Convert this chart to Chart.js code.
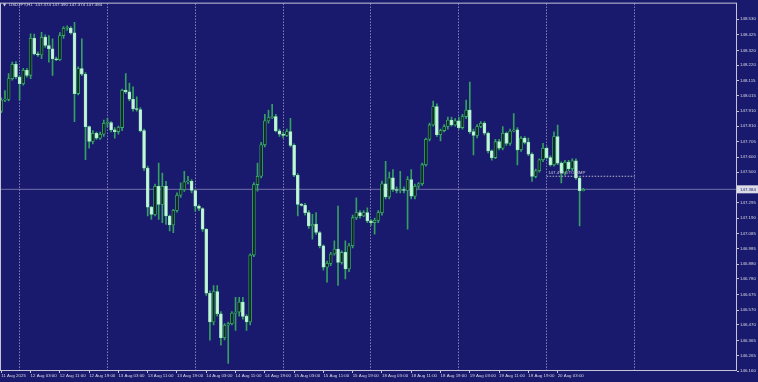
<!DOCTYPE html>
<html>
<head>
<meta charset="utf-8">
<script src="https://cdn.jsdelivr.net/npm/chart.js@4"></script>
<style>
html, body { margin: 0; padding: 0; background: #19196d; }
canvas { display: block; }
</style>
</head>
<body>
<canvas id="myChart" width="758" height="382"></canvas>
<script>
// USDJPY H1, 11 Aug 2025 19:00 .. 20 Aug 2025 10:00
const opens = [147.910,147.985,147.990,148.130,148.226,148.141,148.096,148.186,148.152,148.402,
  148.297,148.290,148.409,148.353,148.331,148.264,148.257,148.420,148.469,148.471,
  148.438,148.029,148.197,148.159,147.806,147.706,147.762,147.728,147.755,147.829,
  147.833,147.784,147.773,147.800,148.052,148.041,147.991,147.925,147.922,147.780,
  147.527,147.264,147.215,147.405,147.282,147.405,147.204,147.144,147.242,147.344,
  147.382,147.434,147.438,147.376,147.271,147.255,147.115,146.684,146.490,146.695,
  146.546,146.385,146.468,146.479,146.550,146.557,146.624,146.528,146.490,146.941,
  147.416,147.472,147.684,147.845,147.867,147.874,147.778,147.755,147.747,147.773,
  147.680,147.479,147.282,147.276,147.227,147.137,147.149,147.093,147.004,146.859,
  146.885,146.948,146.981,146.892,146.959,146.847,147.004,147.193,147.227,147.204,
  147.227,147.171,147.160,147.175,147.227,147.421,147.332,147.461,147.383,147.376,
  147.383,147.376,147.450,147.338,147.405,147.421,147.550,147.722,147.818,147.941,
  147.752,147.780,147.807,147.851,147.818,147.845,147.800,147.874,147.918,147.773,
  147.747,147.807,147.829,147.762,147.643,147.598,147.705,147.661,147.761,147.694,
  147.777,147.785,147.650,147.728,147.700,147.621,147.471,147.509,147.583,147.661,
  147.598,147.549,147.739,147.560,147.494,147.567,147.523,147.576,147.460,147.374];
const highs = [148.000,148.050,148.163,148.241,148.245,148.150,148.200,148.200,148.431,148.430,
  148.310,148.442,148.425,148.420,148.398,148.275,148.440,148.480,148.485,148.480,
  148.509,148.210,148.398,148.170,147.810,147.780,147.770,147.770,147.850,147.862,
  147.840,147.800,147.810,148.060,148.163,148.100,148.075,148.007,147.935,147.790,
  147.540,147.270,147.420,147.561,147.494,147.438,147.210,147.250,147.360,147.427,
  147.505,147.472,147.450,147.380,147.280,147.260,147.120,146.700,146.735,146.735,
  146.560,146.480,146.490,146.560,146.657,146.657,146.657,146.540,146.950,147.430,
  147.561,147.700,147.889,147.918,147.956,147.890,147.790,147.770,147.790,147.863,
  147.690,147.490,147.290,147.290,147.240,147.216,147.227,147.100,147.010,146.900,
  146.960,147.037,147.271,146.970,147.037,147.020,147.210,147.327,147.240,147.240,
  147.260,147.180,147.190,147.240,147.440,147.572,147.500,147.517,147.400,147.506,
  147.400,147.470,147.517,147.420,147.430,147.560,147.730,147.830,147.979,147.960,
  147.790,147.820,147.870,147.870,147.860,147.870,147.890,147.985,148.107,147.790,
  147.820,147.840,147.840,147.770,147.650,147.720,147.720,147.806,147.770,147.790,
  147.895,147.800,147.740,147.740,147.730,147.630,147.520,147.590,147.694,147.670,
  147.610,147.772,147.817,147.570,147.580,147.580,147.590,147.590,147.470,147.390];
const lows = [147.900,147.974,147.980,148.120,148.130,147.985,148.085,148.140,148.130,148.290,
  148.280,148.264,148.340,148.241,148.152,148.250,148.250,148.400,148.455,148.430,
  147.840,148.020,148.150,147.583,147.661,147.690,147.720,147.720,147.740,147.806,
  147.770,147.728,147.755,147.780,148.030,147.980,147.910,147.910,147.770,147.510,
  147.204,147.182,147.204,147.182,147.159,147.148,147.103,147.092,147.230,147.330,
  147.370,147.420,147.360,147.237,147.240,147.100,146.670,146.367,146.470,146.530,
  146.334,146.370,146.211,146.470,146.434,146.530,146.510,146.434,146.470,146.930,
  147.372,147.460,147.670,147.830,147.860,147.770,147.740,147.730,147.740,147.670,
  147.470,147.204,147.270,147.210,147.120,147.048,147.080,146.990,146.840,146.758,
  146.870,146.940,146.736,146.880,146.780,146.830,146.990,147.180,147.190,147.200,
  147.160,147.140,147.082,147.160,147.210,147.320,147.320,147.370,147.360,147.360,
  147.360,147.115,147.320,147.320,147.390,147.410,147.540,147.710,147.810,147.740,
  147.710,147.770,147.790,147.810,147.810,147.790,147.790,147.860,147.760,147.616,
  147.730,147.800,147.750,147.630,147.580,147.590,147.650,147.650,147.680,147.680,
  147.770,147.549,147.640,147.690,147.610,147.438,147.460,147.500,147.570,147.590,
  147.540,147.540,147.550,147.427,147.480,147.510,147.510,147.450,147.137,147.374];
const closes = [147.985,147.990,148.130,148.226,148.141,148.096,148.186,148.152,148.402,148.297,
  148.290,148.409,148.353,148.331,148.264,148.257,148.420,148.469,148.471,148.438,
  148.029,148.197,148.159,147.806,147.706,147.762,147.728,147.755,147.829,147.833,
  147.784,147.773,147.800,148.052,148.041,147.991,147.925,147.922,147.780,147.527,
  147.264,147.215,147.405,147.282,147.405,147.204,147.144,147.242,147.344,147.382,
  147.434,147.438,147.376,147.271,147.255,147.115,146.684,146.490,146.695,146.546,
  146.385,146.468,146.479,146.550,146.557,146.624,146.528,146.490,146.941,147.416,
  147.472,147.684,147.845,147.867,147.874,147.778,147.755,147.747,147.773,147.680,
  147.479,147.282,147.276,147.227,147.137,147.149,147.093,147.004,146.859,146.885,
  146.948,146.981,146.892,146.959,146.847,147.004,147.193,147.227,147.204,147.227,
  147.171,147.160,147.175,147.227,147.421,147.332,147.461,147.383,147.376,147.383,
  147.376,147.450,147.338,147.405,147.421,147.550,147.722,147.818,147.941,147.752,
  147.780,147.807,147.851,147.818,147.845,147.800,147.874,147.918,147.773,147.747,
  147.807,147.829,147.762,147.643,147.598,147.705,147.661,147.761,147.694,147.777,
  147.785,147.650,147.728,147.700,147.621,147.471,147.509,147.583,147.661,147.598,
  147.549,147.739,147.560,147.494,147.567,147.523,147.576,147.460,147.375,147.384];

// bar index -> time label on the bottom axis
const timeTickBars = [0, 8, 16, 24, 32, 40, 48, 56, 64, 72, 80, 88, 96, 104, 112, 120, 128, 136, 144, 152];
const timeTickLabels = ['11 Aug 2025', '12 Aug 03:00', '12 Aug 11:00', '12 Aug 19:00', '13 Aug 03:00',
  '13 Aug 11:00', '13 Aug 19:00', '14 Aug 03:00', '14 Aug 11:00', '14 Aug 19:00', '15 Aug 03:00',
  '15 Aug 11:00', '15 Aug 19:00', '18 Aug 03:00', '18 Aug 11:00', '18 Aug 19:00', '19 Aug 03:00',
  '19 Aug 11:00', '19 Aug 19:00', '20 Aug 03:00'];
// day separators (00:00 bars)
const daySeparators = [5, 29, 53, 77, 101, 125, 149, 173];

const priceTicks = [148.530, 148.425, 148.320, 148.220, 148.115, 148.015, 147.910, 147.810, 147.705,
  147.600, 147.500, 147.395, 147.295, 147.190, 147.085, 146.985, 146.880, 146.780, 146.675, 146.570,
  146.470, 146.365, 146.265, 146.160];

const bidPrice = 147.384;
const dtoLevel = 147.472;
const dtoFrom = 149, dtoTo = 173;

const bgColor = '#19196d';
const frameColor = '#c4c4d4';
const textColor = '#d8d8e6';
const wickColor = '#35a060';
const bullFill = '#0c2a22';
const bullBorder = '#3cb06a';
const bearFill = '#c4f6dc';
const bearBorder = '#9ee6bd';

const wickData = lows.map((l, i) => ({x: i, y: [l, highs[i]]}));
const bodyData = opens.map((o, i) => ({x: i, y: [o, closes[i]]}));
const isBull = i => closes[i] >= opens[i];

const tickMap = {};
timeTickBars.forEach((b, i) => tickMap[b] = timeTickLabels[i]);

const fontSmall = {family: 'Liberation Sans', size: 4.4};

const overlay = {
    id: 'overlay',
    beforeDraw(chart) {
        const {ctx, width, height} = chart;
        ctx.save();
        ctx.fillStyle = bgColor;
        ctx.fillRect(0, 0, width, height);
        ctx.restore();
    },
    afterDraw(chart) {
        const {ctx, chartArea: a, scales} = chart;
        ctx.save();
        // frame
        ctx.strokeStyle = frameColor;
        ctx.lineWidth = 1;
        ctx.strokeRect(a.left - 0.5, a.top - 0.5, a.right - a.left, a.bottom - a.top);

        ctx.fillStyle = textColor;
        ctx.textBaseline = 'middle';
        // symbol title
        ctx.font = '4px "DejaVu Sans"';
        ctx.fillText('\u25BC', 3, 5);
        ctx.font = '4.4px "Liberation Sans"';
        ctx.fillText('USDJPY,H1  ' + opens[opens.length - 1].toFixed(3) + ' ' + highs[highs.length - 1].toFixed(3) +
            ' ' + lows[lows.length - 1].toFixed(3) + ' ' + closes[closes.length - 1].toFixed(3), 9, 5);

        // dto label
        ctx.fillStyle = '#c8c8d8';
        ctx.textBaseline = 'bottom';
        ctx.fillText(dtoLevel.toFixed(3) + ' DTO RMP', scales.x.getPixelForValue(dtoFrom) + 1.5, scales.y.getPixelForValue(dtoLevel) - 1.5);

        // bid price box on the axis
        const py = scales.y.getPixelForValue(bidPrice);
        ctx.fillStyle = '#dcdce6';
        ctx.fillRect(a.right, py - 4, 21, 8);
        ctx.fillStyle = bgColor;
        ctx.textBaseline = 'middle';
        ctx.fillText(bidPrice.toFixed(3), a.right + 3, py);
        ctx.restore();
    }
};

const ctx = document.getElementById('myChart').getContext('2d');
const myChart = new Chart(ctx, {
    type: 'bar',
    data: {
        datasets: [
            {
                label: 'body',
                data: bodyData,
                order: 1,
                barThickness: 3,
                minBarLength: 1,
                borderWidth: 0.8,
                borderSkipped: false,
                backgroundColor: c => isBull(c.dataIndex) ? bullFill : bearFill,
                borderColor: c => isBull(c.dataIndex) ? bullBorder : bearBorder
            },
            {
                label: 'wick',
                data: wickData,
                order: 2,
                barThickness: 1,
                borderWidth: 0,
                backgroundColor: wickColor
            },
            {
                type: 'line',
                label: 'bid',
                data: [{x: -1, y: bidPrice}, {x: 202, y: bidPrice}],
                order: 3,
                borderColor: 'rgba(170,170,210,0.6)',
                borderWidth: 1,
                pointRadius: 0
            },
            {
                type: 'line',
                label: 'dto',
                data: [{x: dtoFrom, y: dtoLevel}, {x: dtoTo, y: dtoLevel}],
                order: 0,
                borderColor: '#b8b8cc',
                borderWidth: 1,
                borderDash: [1.5, 1.5],
                pointRadius: 0
            }
        ]
    },
    options: {
        responsive: false,
        devicePixelRatio: 1,
        animation: false,
        events: [],
        grouped: false,
        layout: {padding: {left: 1, top: 1, right: 0, bottom: 0}},
        plugins: {legend: {display: false}, tooltip: {enabled: false}},
        scales: {
            x: {
                type: 'linear',
                offset: false,
                min: -0.082,
                max: 201.0,
                afterBuildTicks: s => {
                    const v = timeTickBars.concat(daySeparators).sort((a, b) => a - b);
                    s.ticks = v.map(t => ({value: t}));
                },
                afterFit: s => { s.height = 11; s.paddingLeft = 0; s.paddingRight = 0; },
                ticks: {
                    autoSkip: false,
                    maxRotation: 0,
                    align: 'start',
                    padding: 0,
                    color: textColor,
                    font: fontSmall,
                    callback: v => tickMap[v] || ''
                },
                grid: {
                    offset: false,
                    color: c => (c.tick && daySeparators.includes(c.tick.value)) ? 'rgba(215,215,235,0.85)' : 'rgba(0,0,0,0)',
                    tickColor: c => (c.tick && tickMap[c.tick.value]) ? frameColor : 'rgba(0,0,0,0)',
                    tickLength: 2,
                    lineWidth: 1
                },
                border: {display: false, dash: [1, 2]}
            },
            y: {
                position: 'right',
                min: 146.160,
                max: 148.635,
                afterBuildTicks: s => { s.ticks = priceTicks.map(t => ({value: t})); },
                afterFit: s => { s.width = 21; },
                ticks: {
                    autoSkip: false,
                    padding: 1,
                    color: textColor,
                    font: fontSmall,
                    callback: v => v.toFixed(3)
                },
                grid: {
                    drawOnChartArea: false,
                    tickLength: 2,
                    tickColor: frameColor
                },
                border: {display: false}
            }
        }
    },
    plugins: [overlay]
});
</script>
</body>
</html>
